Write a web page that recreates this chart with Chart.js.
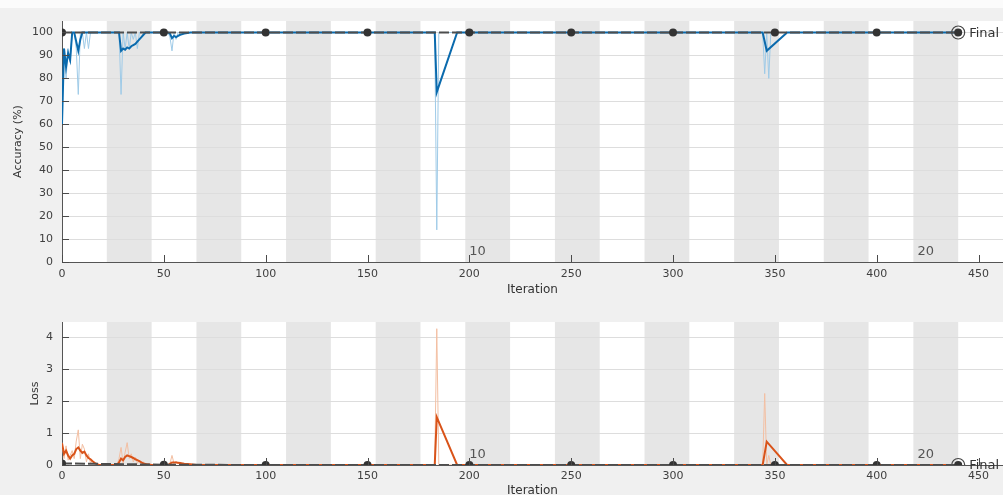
<!DOCTYPE html>
<html>
<head>
<meta charset="utf-8">
<script src="https://cdn.jsdelivr.net/npm/chart.js@4.4.1/dist/chart.umd.min.js"></script>
<style>
  html, body { margin: 0; padding: 0; }
  body { width: 1003px; height: 495px; overflow: hidden; background: #f0f0f0; position: relative; font-family: "DejaVu Sans", sans-serif; }
  #topstrip { position: absolute; left: 0; top: 0; width: 1003px; height: 8px; background: #fbfbfb; }
  canvas { position: absolute; left: 0; }
</style>
</head>
<body>
<div id="topstrip"></div>
<canvas id="acc" width="1003" height="300" style="top:0"></canvas>
<canvas id="loss" width="1003" height="200" style="top:300px"></canvas>
<script>
// ---------------- data ----------------
const itersPerEpoch = 22;
const numEpochs = 20;
const epochLabels = [10, 20];

const accRawIter = [0,1,2,3,4,5,6,7,8,9,10,11,12,13,14,15, 28,29,30,31,32,33,34,35,36,37,38,39, 52,53,54,55,56,57,58, 183,184,185, 344,345,346,347,348, 440];
const accRaw     = [60,93,80,93,87,100,100,93,73,100,100,93,100,93,100,100, 100,73,100,93,100,93,100,97,100,93,100,100, 100,98,92,100,97,100,100, 100,14,100, 100,82,100,80,100, 100];

const accSmoothIter = [0,1,2,3,4,5,6,7,8,9,10, 28,29,30,31,32,33,34,35,36,37,38,39,40,41, 52,53,54,55,56,57,58,60,63, 183,184,194, 344,346,356, 440];
const accSmooth     = [60,93,85,91,88,100,100,96,92,97,100, 100,92,93,92.5,93.5,93,94,94.5,95,96,97,98,99,100, 100,99.5,97.5,98.5,98,98.5,99,99.5,100, 100,74,100, 100,92,100, 100];

const lossRawIter = [0,1,2,3,4,5,6,7,8,9,10,11,12,13,14,15,16,17,18, 27,28,29,30,31,32,33,34,35,36,37,38,39,40,41, 52,53,54,55,56,57,58,59, 183,184,185, 344,345,346,347,348, 440];
const lossRaw     = [0.7,0.2,0.6,0.15,0.3,0.45,0.2,0.75,1.1,0.2,0.65,0.5,0.1,0.35,0.05,0.15,0.02,0.05,0, 0,0.2,0.55,0.05,0.4,0.7,0.2,0.35,0.1,0.25,0.05,0.15,0.02,0.1,0, 0,0.05,0.3,0.05,0.12,0.03,0.08,0, 0,4.27,0, 0,2.24,0,0.3,0, 0];

const lossSmoothIter = [0,1,2,3,4,5,6,7,8,9,10,11,12,13,14,15,16,17,18,20, 27,28,29,30,31,32,33,34,35,36,37,38,39,40,42,44, 52,53,54,56,58,60,63,66, 183,184,194, 344,346,356, 440];
const lossSmooth     = [0.68,0.35,0.45,0.3,0.2,0.3,0.35,0.5,0.55,0.45,0.38,0.42,0.3,0.22,0.18,0.12,0.07,0.03,0.01,0, 0,0.08,0.2,0.15,0.25,0.3,0.28,0.25,0.22,0.18,0.15,0.12,0.08,0.05,0.02,0, 0,0.04,0.08,0.08,0.06,0.04,0.02,0, 0,1.5,0, 0,0.73,0, 0];

const valIter = [0,50,100,150,200,250,300,350,400,440];
const valAcc  = [100,100,100,100,100,100,100,100,100,100];
const valLoss = [0.05,0.01,0,0,0,0,0,0,0,0];

const finalIter = 440;
const finalAcc = 100;
const finalLoss = 0;
const finalLabel = "Final";

// ---------------- helpers ----------------
const pts = (xs, ys) => xs.map((x, i) => ({ x: x, y: ys[i] }));
const FONT = "DejaVu Sans";

const decorPlugin = {
  id: 'decor',
  beforeDraw(chart) {
    const { ctx, chartArea: a, scales } = chart;
    const xs = scales.x;
    ctx.save();
    ctx.fillStyle = '#ffffff';
    ctx.fillRect(a.left, a.top, a.right - a.left, a.bottom - a.top);
    ctx.fillStyle = '#e6e6e6';
    for (let e = 2; e <= numEpochs; e += 2) {
      const x0 = xs.getPixelForValue((e - 1) * itersPerEpoch);
      const x1 = xs.getPixelForValue(e * itersPerEpoch);
      ctx.fillRect(x0, a.top, x1 - x0, a.bottom - a.top);
    }
    ctx.restore();
  },
  afterDatasetsDraw(chart, args, opts) {
    const { ctx, chartArea: a, scales } = chart;
    const xs = scales.x, ys = scales.y;
    ctx.save();
    ctx.strokeStyle = '#4a4a4a';
    ctx.lineWidth = 1;
    ctx.beginPath();
    xs.ticks.forEach(t => {
      const px = Math.round(xs.getPixelForValue(t.value)) + 0.5;
      ctx.moveTo(px, a.bottom);
      ctx.lineTo(px, a.bottom - 7);
    });
    ys.ticks.forEach(t => {
      const py = Math.round(ys.getPixelForValue(t.value)) + 0.5;
      ctx.moveTo(a.left, py);
      ctx.lineTo(a.left + 7, py);
    });
    ctx.stroke();
    ctx.fillStyle = '#555555';
    ctx.font = '13px "' + FONT + '"';
    ctx.textAlign = 'left';
    ctx.textBaseline = 'middle';
    epochLabels.forEach(e => {
      const px = xs.getPixelForValue((e - 1) * itersPerEpoch) + 4;
      ctx.fillText(String(e), px, a.bottom - 10);
    });
    ctx.fillStyle = '#333333';
    ctx.font = '13px "' + FONT + '"';
    ctx.fillText(finalLabel, xs.getPixelForValue(finalIter) + 11, ys.getPixelForValue(opts.finalValue) + 1);
    ctx.restore();
  }
};

function makeChart(id, cfg) {
  const ctx = document.getElementById(id);
  return new Chart(ctx, {
    type: 'line',
    data: {
      datasets: [
        { data: pts(valIter, cfg.val), borderColor: '#4d4d4d', borderWidth: 2, borderDash: [10, 3],
          pointRadius: 4, pointBackgroundColor: '#333333', pointBorderColor: '#333333', pointBorderWidth: 0, order: 0 },
        { data: [{ x: finalIter, y: cfg.finalValue }], showLine: false, pointRadius: 6.5,
          pointBackgroundColor: 'rgba(0,0,0,0)', pointBorderColor: '#444444', pointBorderWidth: 1.2, order: 0 },
        { data: pts(cfg.smoothIter, cfg.smooth), borderColor: cfg.dark, borderWidth: 2, pointRadius: 0, order: 1 },
        { data: pts(cfg.rawIter, cfg.raw), borderColor: cfg.light, borderWidth: 1, pointRadius: 0, order: 2 }
      ]
    },
    options: {
      responsive: false,
      animation: false,
      devicePixelRatio: 1,
      layout: { autoPadding: false, padding: { top: cfg.padTop, left: 0, right: 0, bottom: 0 } },
      plugins: { legend: { display: false }, tooltip: { enabled: false }, decor: { finalValue: cfg.finalValue } },
      elements: { line: { tension: 0 } },
      scales: {
        x: {
          type: 'linear', min: 0, max: 462,
          afterFit: s => { s.height = cfg.xHeight; s.paddingRight = 0; s.paddingLeft = 0; },
          grid: { display: false, drawTicks: false },
          border: { display: true, color: '#555555', width: 1 },
          ticks: { stepSize: 50, includeBounds: false, padding: cfg.xPad, color: '#404040',
                   font: { family: FONT, size: 11 }, maxRotation: 0, autoSkip: false },
          title: { display: true, text: 'Iteration', color: '#333333', font: { family: FONT, size: 12 },
                   padding: { top: 0, bottom: cfg.xTitlePad } }
        },
        y: {
          min: 0, max: cfg.yMax,
          afterFit: s => { s.width = 62; s.paddingTop = 0; s.paddingBottom = 0; },
          grid: { display: true, drawTicks: false, color: '#dddddd', lineWidth: 1 },
          border: { display: true, color: '#555555', width: 1 },
          ticks: { stepSize: cfg.yStep, includeBounds: false, padding: 9, color: '#404040',
                   font: { family: FONT, size: 11 } },
          title: { display: true, text: cfg.yTitle, color: '#333333', font: { family: FONT, size: 11 },
                   padding: { top: cfg.yTitlePad, bottom: 0 } }
        }
      }
    },
    plugins: [decorPlugin]
  });
}

makeChart('acc', {
  val: valAcc, finalValue: finalAcc,
  smoothIter: accSmoothIter, smooth: accSmooth, rawIter: accRawIter, raw: accRaw,
  dark: '#0a6aad', light: '#9fcbe8',
  padTop: 21, xHeight: 38, xPad: 6, xTitlePad: 3,
  yMax: 105, yStep: 10, yTitle: 'Accuracy (%)', yTitlePad: 12
});

makeChart('loss', {
  val: valLoss, finalValue: finalLoss,
  smoothIter: lossSmoothIter, smooth: lossSmooth, rawIter: lossRawIter, raw: lossRaw,
  dark: '#d95319', light: '#f3bfa2',
  padTop: 22, xHeight: 35, xPad: 5, xTitlePad: 2,
  yMax: 4.48, yStep: 1, yTitle: 'Loss', yTitlePad: 29
});
</script>
</body>
</html>
